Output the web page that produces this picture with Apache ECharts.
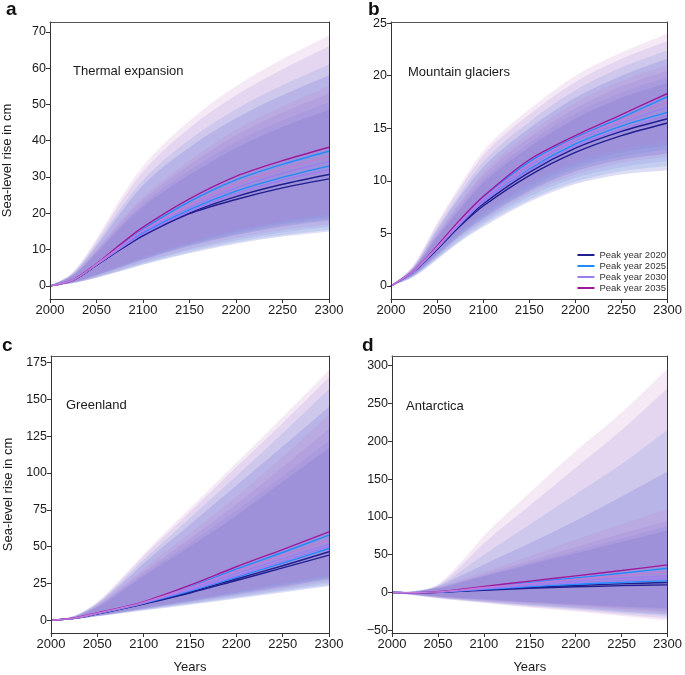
<!DOCTYPE html>
<html><head><meta charset="utf-8">
<script src="https://cdn.jsdelivr.net/npm/echarts@6/dist/echarts.min.js"></script>
<style>html,body{margin:0;padding:0;background:#fff}#c{width:685px;height:675px}</style>
</head><body><div id="c"></div>
<script>
const YEARS = [2000, 2025, 2050, 2075, 2100, 2150, 2200, 2250, 2300];
const SCENARIOS = ['Peak year 2020', 'Peak year 2025', 'Peak year 2030', 'Peak year 2035'];
const PANEL_NAMES = ['Thermal expansion', 'Mountain glaciers', 'Greenland', 'Antarctica'];
const PANEL_LETTERS = ['a', 'b', 'c', 'd'];
const Y_TICKS_A = [0, 10, 20, 30, 40, 50, 60, 70];
const Y_TICKS_B = [0, 5, 10, 15, 20, 25];
const Y_TICKS_C = [0, 25, 50, 75, 100, 125, 150, 175];
const Y_TICKS_D = [-50, 0, 50, 100, 150, 200, 250, 300];

// Lines: two per scenario, order 2020a,2020b,2025a,2025b,2030a,2030b,2035a,2035b
const A_LINES = [
  [0, 1.6, 5.7, 9.9, 13.8, 19.9, 23.8, 27.0, 29.5],
  [0, 1.6, 5.7, 10.0, 14.0, 20.1, 24.6, 28.0, 30.7],
  [0, 1.7, 5.9, 10.4, 14.6, 21.0, 26.1, 29.9, 33.0],
  [0, 1.7, 6.0, 10.9, 15.6, 23.2, 29.2, 33.5, 37.1],
  [0, 1.6, 5.8, 10.2, 14.3, 20.5, 25.4, 29.1, 32.0],
  [0, 1.7, 5.9, 10.6, 15.0, 21.6, 27.0, 31.0, 34.3],
  [0, 1.7, 6.1, 11.3, 16.2, 24.0, 30.2, 34.5, 38.2],
  [0, 1.7, 6.0, 10.8, 15.3, 22.3, 28.0, 32.2, 35.6]
];
const A_OUT_HI = [
  [0, 3.4, 11.0, 19.8, 27.7, 38.2, 46.2, 52.5, 58.0],
  [0, 3.6, 11.6, 21.0, 29.2, 40.3, 48.7, 55.3, 61.0],
  [0, 3.8, 12.4, 22.6, 31.5, 43.5, 52.5, 59.7, 66.0],
  [0, 4.0, 13.0, 23.8, 33.0, 45.5, 55.0, 62.5, 69.0]
];
const A_IN_HI = [
  [0, 2.9, 9.0, 15.8, 21.8, 30.6, 38.0, 43.8, 48.5],
  [0, 3.0, 9.3, 16.4, 22.6, 31.8, 39.6, 45.6, 50.5],
  [0, 3.1, 9.7, 17.2, 23.7, 33.4, 41.5, 47.8, 53.0],
  [0, 3.2, 10.0, 17.8, 24.5, 34.5, 43.0, 49.5, 55.0]
];
const A_OUT_LO = [
  [0, 0.8, 2.2, 4.0, 5.8, 9.0, 11.6, 13.6, 15.0],
  [0, 0.8, 2.3, 4.1, 6.0, 9.3, 12.0, 14.0, 15.5],
  [0, 0.8, 2.4, 4.3, 6.3, 9.8, 12.6, 14.8, 16.3],
  [0, 0.9, 2.5, 4.5, 6.6, 10.2, 13.2, 15.4, 17.0]
];
const A_IN_LO = [
  [0, 1.0, 2.9, 5.0, 7.2, 11.0, 14.0, 16.4, 18.0],
  [0, 1.0, 3.0, 5.2, 7.4, 11.3, 14.4, 16.9, 18.6],
  [0, 1.0, 3.1, 5.4, 7.7, 11.7, 14.9, 17.4, 19.2],
  [0, 1.1, 3.2, 5.6, 8.0, 12.1, 15.4, 18.0, 19.8]
];

const B_LINES = [
  [0, 1.4, 3.5, 5.7, 7.6, 10.5, 12.7, 14.3, 15.5],
  [0, 1.4, 3.5, 5.8, 7.8, 10.8, 13.1, 14.7, 15.9],
  [0, 1.4, 3.6, 5.9, 8.0, 11.1, 13.5, 15.2, 16.5],
  [0, 1.5, 3.7, 6.2, 8.4, 11.8, 14.1, 16.0, 18.0],
  [0, 1.4, 3.6, 5.9, 8.0, 11.0, 13.3, 14.9, 16.2],
  [0, 1.4, 3.6, 6.0, 8.2, 11.4, 13.8, 15.5, 17.0],
  [0, 1.5, 3.8, 6.3, 8.5, 12.0, 14.3, 16.3, 18.3],
  [0, 1.5, 3.7, 6.1, 8.3, 11.6, 14.0, 15.8, 17.5]
];
const B_OUT_HI = [
  [0, 1.8, 5.3, 8.5, 11.3, 15.0, 17.9, 20.0, 21.6],
  [0, 1.9, 5.5, 8.8, 11.8, 15.6, 18.6, 20.8, 22.4],
  [0, 2.0, 5.8, 9.3, 12.4, 16.3, 19.4, 21.6, 23.3],
  [0, 2.1, 6.0, 9.6, 12.8, 16.8, 20.0, 22.2, 24.0]
];
const B_IN_HI = [
  [0, 1.7, 4.6, 7.3, 9.8, 13.2, 15.9, 17.9, 19.3],
  [0, 1.7, 4.7, 7.5, 10.1, 13.6, 16.4, 18.4, 19.9],
  [0, 1.8, 4.9, 7.8, 10.5, 14.1, 16.9, 19.0, 20.5],
  [0, 1.8, 5.0, 8.0, 10.8, 14.5, 17.4, 19.5, 21.0]
];
const B_OUT_LO = [
  [0, 0.9, 2.5, 4.2, 5.6, 8.0, 9.7, 10.6, 11.0],
  [0, 0.9, 2.6, 4.3, 5.8, 8.2, 9.9, 10.9, 11.4],
  [0, 1.0, 2.7, 4.5, 6.0, 8.5, 10.3, 11.3, 11.9],
  [0, 1.0, 2.8, 4.7, 6.2, 8.8, 10.6, 11.7, 12.3]
];
const B_IN_LO = [
  [0, 1.1, 2.9, 4.8, 6.4, 9.0, 10.9, 12.0, 12.6],
  [0, 1.1, 3.0, 4.9, 6.6, 9.2, 11.2, 12.3, 13.0],
  [0, 1.1, 3.1, 5.1, 6.8, 9.5, 11.5, 12.7, 13.4],
  [0, 1.2, 3.2, 5.3, 7.0, 9.8, 11.8, 13.0, 13.8]
];

const C_LINES = [
  [0, 1.2, 4.3, 7.5, 11.0, 18.5, 27.0, 35.5, 44.2],
  [0, 1.2, 4.4, 7.6, 11.2, 19.0, 28.0, 37.0, 46.5],
  [0, 1.3, 4.5, 7.8, 11.5, 19.8, 29.2, 38.8, 48.7],
  [0, 1.4, 4.8, 8.3, 12.2, 22.6, 34.7, 46.0, 57.8],
  [0, 1.3, 4.6, 7.9, 11.7, 20.4, 30.0, 40.0, 50.2],
  [0, 1.3, 4.7, 8.1, 11.9, 21.3, 31.8, 41.8, 51.7],
  [0, 1.5, 5.0, 8.5, 12.5, 23.8, 36.3, 48.0, 60.0],
  [0, 1.4, 4.8, 8.2, 12.1, 22.2, 33.5, 44.0, 54.4]
];
const C_OUT_HI = [
  [0, 2.7, 11.0, 24.0, 38.5, 65.0, 91.5, 118.0, 145.0],
  [0, 2.8, 11.5, 25.5, 41.0, 69.5, 98.0, 127.0, 157.0],
  [0, 2.9, 12.0, 27.0, 43.5, 73.5, 104.0, 134.0, 165.0],
  [0, 3.0, 12.5, 28.0, 45.0, 76.0, 107.0, 138.0, 170.0]
];
const C_IN_HI = [
  [0, 2.2, 8.8, 19.0, 30.0, 50.0, 71.0, 94.0, 117.0],
  [0, 2.3, 9.2, 20.0, 31.5, 52.5, 74.5, 98.0, 122.0],
  [0, 2.4, 9.6, 21.0, 33.0, 55.5, 79.0, 104.0, 130.0],
  [0, 2.5, 10.0, 22.0, 35.0, 59.0, 84.0, 111.0, 140.0]
];
const C_OUT_LO = [
  [0, 0.6, 2.6, 4.6, 6.6, 10.5, 14.6, 18.8, 23.0],
  [0, 0.6, 2.7, 4.8, 6.9, 11.0, 15.3, 19.6, 24.0],
  [0, 0.7, 2.8, 5.0, 7.2, 11.5, 16.0, 20.6, 25.2],
  [0, 0.7, 2.9, 5.2, 7.5, 12.0, 16.8, 21.6, 26.5]
];
const C_IN_LO = [
  [0, 0.8, 3.0, 5.4, 7.8, 12.6, 17.6, 22.6, 27.8],
  [0, 0.8, 3.1, 5.6, 8.1, 13.1, 18.3, 23.5, 28.8],
  [0, 0.9, 3.2, 5.8, 8.4, 13.6, 19.0, 24.4, 29.8],
  [0, 0.9, 3.3, 6.0, 8.7, 14.1, 19.7, 25.3, 31.0]
];

const D_LINES = [
  [0, -0.3, 0.3, 1.6, 3.0, 5.5, 7.5, 9.0, 10.1],
  [0, -0.3, 0.4, 1.9, 3.6, 6.6, 9.3, 11.4, 13.2],
  [0, -0.3, 0.5, 2.1, 4.1, 7.7, 10.9, 13.4, 15.4],
  [0, -0.3, 0.9, 3.6, 7.0, 13.1, 19.2, 25.5, 32.0],
  [0, -0.3, 0.6, 2.5, 4.8, 9.1, 12.8, 15.8, 18.5],
  [0, -0.3, 0.7, 3.0, 5.8, 10.9, 15.6, 19.0, 22.0],
  [0, -0.3, 1.0, 4.2, 8.0, 15.0, 22.0, 29.0, 36.5],
  [0, -0.3, 0.8, 3.4, 6.5, 12.0, 17.6, 22.5, 27.3]
];
const D_OUT_HI = [
  [0, 1.6, 8, 22, 37, 65, 95, 127, 160],
  [0, 1.8, 9, 28, 50, 90, 130, 170, 215],
  [0, 2.0, 10, 35, 65, 115, 165, 215, 270],
  [0, 2.0, 11, 40, 75, 132, 187, 238, 296]
];
const D_IN_HI = [
  [0, 1.2, 5.5, 13, 21, 37, 52, 67, 82],
  [0, 1.3, 6.0, 14, 22, 39, 55, 71, 88],
  [0, 1.4, 6.5, 15, 24, 42, 60, 78, 95],
  [0, 1.5, 7.0, 17, 27, 48, 70, 90, 110]
];
const D_OUT_LO = [
  [0, -3.4, -6.6, -9.4, -11.8, -16.5, -20.5, -25, -29],
  [0, -3.6, -7.0, -10.0, -12.5, -17.5, -22.0, -27, -31],
  [0, -3.8, -7.5, -10.5, -13.2, -18.8, -23.5, -29, -34],
  [0, -4.0, -8.0, -11.0, -14.0, -20.0, -25.0, -31, -37]
];
const D_IN_LO = [
  [0, -2.7, -5.2, -7.3, -9.0, -12.5, -15.5, -18.5, -21],
  [0, -2.8, -5.4, -7.6, -9.5, -13.2, -16.5, -20.0, -23],
  [0, -2.9, -5.7, -8.0, -10.0, -14.0, -17.5, -21.5, -25],
  [0, -3.0, -6.0, -8.5, -10.5, -15.0, -19.0, -23.0, -27]
];

// ---- styling / layout ----
const LINE_COLORS = ['#1f1f8f', '#1f1f8f', '#1e8cff', '#1e8cff', '#9d7cf2', '#9d7cf2', '#a0189a', '#c27ad6'];
const BAND_COLORS = ['rgba(45,45,190,0.16)', 'rgba(60,130,225,0.16)', 'rgba(130,118,218,0.16)', 'rgba(190,120,200,0.16)'];
const FONT = 'Liberation Sans, Arial, Helvetica, sans-serif';

const panels = [
  {lines: A_LINES, oh: A_OUT_HI, ih: A_IN_HI, ol: A_OUT_LO, il: A_IN_LO, ticks: Y_TICKS_A, min: -3.6, max: 72.7,
   grid: {left: 50, top: 22, width: 279, height: 277}, yname: true, xname: false},
  {lines: B_LINES, oh: B_OUT_HI, ih: B_IN_HI, ol: B_OUT_LO, il: B_IN_LO, ticks: Y_TICKS_B, min: -1.24, max: 25.1,
   grid: {left: 391, top: 22, width: 279, height: 277}, yname: false, xname: false},
  {lines: C_LINES, oh: C_OUT_HI, ih: C_IN_HI, ol: C_OUT_LO, il: C_IN_LO, ticks: Y_TICKS_C, min: -8.7, max: 179.5,
   grid: {left: 51, top: 356, width: 278, height: 277}, yname: true, xname: true},
  {lines: D_LINES, oh: D_OUT_HI, ih: D_IN_HI, ol: D_OUT_LO, il: D_IN_LO, ticks: Y_TICKS_D, min: -53.6, max: 312.8,
   grid: {left: 392, top: 356, width: 278, height: 277}, yname: false, xname: true}
];

// monotone cubic path segments through pixel points (x strictly monotone)
function monotoneSegs(pts) {
  const n = pts.length, d = [], m = [];
  for (let k = 0; k < n - 1; k++) d.push((pts[k + 1][1] - pts[k][1]) / (pts[k + 1][0] - pts[k][0]));
  m[0] = d[0]; m[n - 1] = d[n - 2];
  for (let k = 1; k < n - 1; k++) m[k] = (d[k - 1] * d[k] <= 0) ? 0 : (d[k - 1] + d[k]) / 2;
  for (let k = 0; k < n - 1; k++) {
    if (d[k] === 0) { m[k] = 0; m[k + 1] = 0; continue; }
    const a = m[k] / d[k], b = m[k + 1] / d[k], s = a * a + b * b;
    if (s > 9) { const t = 3 / Math.sqrt(s); m[k] = t * a * d[k]; m[k + 1] = t * b * d[k]; }
  }
  let out = '';
  for (let k = 0; k < n - 1; k++) {
    const h = pts[k + 1][0] - pts[k][0];
    out += ' C' + (pts[k][0] + h / 3) + ' ' + (pts[k][1] + m[k] * h / 3) + ' ' +
      (pts[k + 1][0] - h / 3) + ' ' + (pts[k + 1][1] - m[k + 1] * h / 3) + ' ' +
      pts[k + 1][0] + ' ' + pts[k + 1][1];
  }
  return out;
}

const grids = [], xAxes = [], yAxes = [], series = [];
const frameColor = '#333';
panels.forEach((p, i) => {
  grids.push(Object.assign({containLabel: false}, p.grid));
  xAxes.push({
    type: 'value', gridIndex: i, min: 2000, max: 2300, interval: 50, z: 10,
    axisLine: {onZero: false, lineStyle: {color: frameColor, width: 1}},
    axisTick: {length: 4, lineStyle: {color: frameColor}},
    axisLabel: {fontSize: 13, color: '#1a1a1a', margin: 5, fontFamily: FONT, formatter: v => String(v)},
    splitLine: {show: false},
    name: p.xname ? 'Years' : '', nameLocation: 'middle', nameGap: 28,
    nameTextStyle: {fontSize: 13, color: '#1a1a1a', fontFamily: FONT}
  });
  xAxes.push({
    type: 'value', gridIndex: i, min: 2000, max: 2300, position: 'top', z: 10,
    axisLine: {onZero: false, lineStyle: {color: '#555', width: 1}},
    axisTick: {show: false}, axisLabel: {show: false}, splitLine: {show: false}
  });
  yAxes.push({
    type: 'value', gridIndex: i, min: p.min, max: p.max, z: 10,
    axisLine: {onZero: false, lineStyle: {color: frameColor, width: 1}},
    axisTick: {length: 4, lineStyle: {color: frameColor}, customValues: p.ticks},
    axisLabel: {fontSize: 12.5, color: '#1a1a1a', margin: 4, fontFamily: FONT, customValues: p.ticks,
      formatter: v => (v < 0 ? '\u2212' + Math.abs(v) : String(v))},
    splitLine: {show: false},
    name: p.yname ? 'Sea-level rise in cm' : '', nameLocation: 'middle', nameGap: 36,
    nameTextStyle: {fontSize: 13, color: '#1a1a1a', fontFamily: FONT}
  });
  yAxes.push({
    type: 'value', gridIndex: i, min: p.min, max: p.max, position: 'right', z: 10,
    axisLine: {onZero: false, lineStyle: {color: frameColor, width: 1}},
    axisTick: {show: false}, axisLabel: {show: false}, splitLine: {show: false}
  });

  const xi = 2 * i, yi = 2 * i;
  const bandList = [];
  for (let s = 0; s < 4; s++) {
    bandList.push({lo: p.ol[s], hi: p.oh[s], s: s});
    bandList.push({lo: p.il[s], hi: p.ih[s], s: s});
  }
  series.push({
    type: 'custom', xAxisIndex: xi, yAxisIndex: yi, z: 1, silent: true, clip: true,
    dimensions: ['x', 'y', 'band'], encode: {x: 0, y: 1},
    data: bandList.map((b, k) => [YEARS[0], b.lo[0], k]),
    renderItem: (params, api) => {
      const band = bandList[api.value(2)];
      const up = YEARS.map((y, k) => api.coord([y, band.hi[k]]));
      const dn = YEARS.map((y, k) => api.coord([y, band.lo[k]])).reverse();
      const path = 'M' + up[0][0] + ' ' + up[0][1] + monotoneSegs(up) +
        ' L' + dn[0][0] + ' ' + dn[0][1] + monotoneSegs(dn) + ' Z';
      return {type: 'path', shape: {pathData: path}, style: {fill: BAND_COLORS[band.s], stroke: null}};
    }
  });
  p.lines.forEach((vals, j) => {
    series.push({
      type: 'line', name: SCENARIOS[Math.floor(j / 2)], xAxisIndex: xi, yAxisIndex: yi,
      data: YEARS.map((y, k) => [y, vals[k]]), symbol: 'none', showSymbol: false, smooth: 0.3,
      lineStyle: {width: 1.4, color: LINE_COLORS[j]}, itemStyle: {color: LINE_COLORS[j]},
      z: 3
    });
  });
});

const titles = [];
const letterPos = [[6, 0], [368, 0], [2, 336], [362, 336]];
const namePos = [[73, 65], [408, 66], [66, 399], [406, 400]];
PANEL_LETTERS.forEach((t, i) => titles.push({text: t, left: letterPos[i][0], top: letterPos[i][1], padding: 0,
  textStyle: {fontSize: 19, fontWeight: 'bold', color: '#111', fontFamily: FONT}}));
PANEL_NAMES.forEach((t, i) => titles.push({text: t, left: namePos[i][0], top: namePos[i][1], padding: 0,
  textStyle: {fontSize: 13, fontWeight: 'normal', color: '#1a1a1a', fontFamily: FONT}}));

const option = {
  animation: false,
  backgroundColor: '#fff',
  title: titles,
  grid: grids,
  xAxis: xAxes,
  yAxis: yAxes,
  legend: {
    data: SCENARIOS, orient: 'vertical', right: 19, top: 250, padding: 0,
    itemWidth: 17, itemHeight: 2, itemGap: 1, icon: 'rect', selectedMode: false,
    textStyle: {fontSize: 9.5, color: '#333', fontFamily: FONT}
  },
  series: series
};
const chart = echarts.init(document.getElementById('c'), null, {renderer: 'canvas'});
chart.setOption(option);
</script></body></html>
